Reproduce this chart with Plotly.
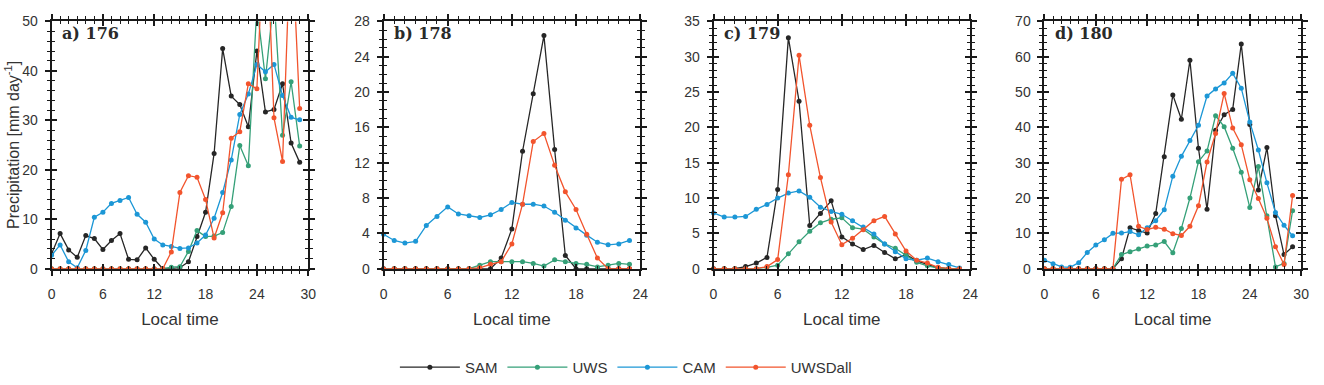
import plotly.graph_objects as go

# ---------------- data ----------------
hours_176 = list(range(30))
sam_176 = [3.0, 7.1, 3.8, 2.3, 6.7, 6.1, 3.9, 5.7, 7.1, 1.9, 1.8, 4.2, 1.9, 0.0, 0.0, 0.2, 1.4, 6.5, 11.4, 23.3,
           44.5, 34.9, 33.2, 28.7, 44.0, 31.7, 32.2, 37.4, 25.4, 21.5]
uws_176 = [0.0, 0.0, 0.0, 0.0, 0.0, 0.0, 0.0, 0.0, 0.0, 0.0, 0.0, 0.0, 0.0, 0.0, 0.3, 0.4, 3.5, 7.7, 6.5, 6.6,
           7.3, 12.6, 24.9, 20.8, 53.0, 38.4, 55.0, 27.0, 37.8, 24.8]
cam_176 = [2.7, 4.8, 1.4, 0.2, 3.7, 10.4, 11.4, 13.2, 13.8, 14.4, 11.0, 9.4, 6.0, 4.8, 4.5, 4.1, 4.2, 5.2, 6.8, 10.2,
           15.4, 22.0, 31.2, 35.3, 41.3, 39.8, 41.3, 35.0, 30.6, 30.1]
uwsdall_176 = [0.0, 0.0, 0.0, 0.0, 0.0, 0.0, 0.0, 0.0, 0.0, 0.0, 0.0, 0.0, 0.0, 0.0, 3.4, 15.4, 18.8, 18.5, 14.0, 6.2,
               11.3, 26.4, 27.7, 37.4, 36.4, 75.0, 30.5, 21.7, 70.0, 32.4]

hours_178 = list(range(24))
sam_178 = [0.0, 0.0, 0.0, 0.0, 0.0, 0.0, 0.0, 0.0, 0.0, 0.0, 0.0, 1.2, 4.5, 13.3, 19.8, 26.4, 13.5, 1.5, 0.0, 0.0,
           0.0, 0.0, 0.0, 0.0]
uws_178 = [0.0, 0.0, 0.0, 0.0, 0.0, 0.0, 0.0, 0.0, 0.0, 0.4, 0.8, 0.8, 0.8, 0.8, 0.6, 0.3, 1.0, 0.8, 0.6, 0.5,
           0.2, 0.4, 0.6, 0.5]
cam_178 = [3.9, 3.2, 2.9, 3.1, 4.9, 5.9, 7.0, 6.2, 6.0, 5.8, 6.1, 6.7, 7.5, 7.3, 7.3, 7.1, 6.4, 5.5, 4.6, 3.8,
           3.0, 2.7, 2.8, 3.2]
uwsdall_178 = [0.0, 0.0, 0.0, 0.0, 0.0, 0.0, 0.0, 0.0, 0.0, 0.1, 0.5, 0.8, 2.8, 7.3, 14.4, 15.3, 11.7, 8.7, 6.7, 3.9,
               1.2, 0.0, 0.0, 0.0]

hours_179 = list(range(24))
sam_179 = [0.0, 0.0, 0.0, 0.3, 0.8, 1.6, 11.2, 32.7, 23.7, 6.1, 7.8, 9.6, 4.5, 3.5, 2.7, 3.3, 2.3, 1.4, 2.0, 1.1,
           0.6, 0.1, 0.0, 0.0]
uws_179 = [0.0, 0.0, 0.0, 0.0, 0.0, 0.2, 0.5, 2.1, 3.8, 5.3, 6.5, 7.0, 7.2, 5.8, 5.6, 4.5, 3.5, 2.9, 1.9, 0.9,
           0.4, 0.1, 0.0, 0.0]
cam_179 = [7.9, 7.3, 7.3, 7.4, 8.4, 9.1, 10.0, 10.7, 11.0, 10.1, 8.7, 8.1, 7.7, 6.8, 5.9, 4.9, 3.5, 2.4, 1.4, 1.2,
           1.5, 1.0, 0.6, 0.1]
uwsdall_179 = [0.0, 0.0, 0.0, 0.0, 0.0, 0.3, 1.3, 13.3, 30.2, 20.3, 12.9, 6.6, 3.4, 4.3, 5.5, 6.8, 7.4, 4.9, 2.5, 1.2,
               0.8, 0.2, 0.0, 0.0]

hours_180 = list(range(30))
sam_180 = [0.0, 0.0, 0.0, 0.0, 0.0, 0.0, 0.0, 0.0, 0.0, 2.8, 11.6, 10.8, 10.1, 15.6, 31.7, 49.2, 42.3, 59.0, 34.1, 16.8,
           39.2, 43.6, 45.1, 63.6, 40.8, 22.3, 34.3, 15.0, 4.0, 6.2]
uws_180 = [0.0, 0.0, 0.0, 0.0, 0.0, 0.0, 0.0, 0.0, 0.0, 4.0, 4.8, 5.6, 6.4, 6.7, 7.7, 4.5, 11.4, 20.0, 30.3, 33.3,
           43.3, 40.2, 34.1, 27.3, 17.3, 28.9, 15.0, 0.5, 1.5, 16.4]
cam_180 = [2.4, 1.4, 0.5, 0.4, 1.7, 4.6, 6.7, 8.2, 10.0, 10.1, 10.5, 9.6, 11.6, 13.6, 16.7, 26.2, 31.8, 36.3, 40.6, 48.9,
           50.9, 52.6, 55.3, 51.1, 41.5, 33.6, 24.3, 15.9, 12.3, 9.3]
uwsdall_180 = [0.0, 0.0, 0.0, 0.0, 0.0, 0.0, 0.0, 0.0, 0.0, 25.3, 26.6, 12.0, 11.1, 11.7, 11.2, 9.9, 9.4, 12.0, 17.8, 30.2,
               38.3, 49.6, 39.8, 35.1, 25.2, 19.9, 14.3, 6.2, 1.2, 20.7]

panel_labels = ["a) 176", "b) 178", "c) 179", "d) 180"]
series_names = ["SAM", "UWS", "CAM", "UWSDall"]
series_colors = ["#262626", "#35a078", "#1c97d6", "#f2542d"]

x_max = [30, 24, 24, 30]
y_max = [50, 28, 35, 70]
y_major = [10, 4, 5, 10]
y_minor = [2, 1, 1, 2]

panel_data = [
    (hours_176, [sam_176, uws_176, cam_176, uwsdall_176]),
    (hours_178, [sam_178, uws_178, cam_178, uwsdall_178]),
    (hours_179, [sam_179, uws_179, cam_179, uwsdall_179]),
    (hours_180, [sam_180, uws_180, cam_180, uwsdall_180]),
]

# ---------------- layout geometry ----------------
W, H = 1324, 385
plot_left = [48, 383, 716, 1050]
plot_w = 259
top_px, bottom_px = 14, 272
FONT = "Liberation Sans"
TXT = "#333333"
AX = "#1a1a1a"

fig = go.Figure()
layout = {}
annotations = []

for i, (hours, vals) in enumerate(panel_data):
    n = 2 * i + 1
    m = 2 * i + 2
    xa = "x" if n == 1 else f"x{n}"
    ya = "y" if n == 1 else f"y{n}"
    xo, yo = f"x{m}", f"y{m}"
    clip = any(v > y_max[i] for s in vals for v in s)
    for k, (name, color, s) in enumerate(zip(series_names, series_colors, vals)):
        last = (k == len(series_names) - 1)
        fig.add_trace(go.Scatter(
            x=hours, y=s,
            xaxis=xo if last else xa, yaxis=yo if last else ya,
            mode="lines+markers",
            name=name, legendgroup=name, showlegend=(i == 0),
            line=dict(color=color, width=1.3),
            marker=dict(size=5, color=color),
            cliponaxis=clip,
        ))
    dx = [plot_left[i] / W, (plot_left[i] + plot_w) / W]
    dy = [1 - bottom_px / H, 1 - top_px / H]
    common_x = dict(domain=dx, range=[0, x_max[i]], tick0=0, dtick=6,
                    showgrid=False, zeroline=False, fixedrange=True)
    common_y = dict(domain=dy, range=[0, y_max[i]], tick0=0, dtick=y_major[i],
                    showgrid=False, zeroline=False, fixedrange=True)
    layout["xaxis" if n == 1 else f"xaxis{n}"] = dict(
        **common_x, anchor=ya, ticks="outside", ticklen=5, tickwidth=1.5, tickcolor=AX,
        mirror="ticks", showline=True, linewidth=2, linecolor=AX,
        minor=dict(dtick=1, tick0=0, ticks="outside", ticklen=3, tickwidth=1, tickcolor=AX, showgrid=False),
        tickfont=dict(family=FONT, size=14, color=TXT), ticklabelstandoff=7,
        title=dict(text="Local time", font=dict(family=FONT, size=17, color=TXT), standoff=12),
    )
    layout[f"xaxis{m}"] = dict(
        **common_x, anchor=yo, overlaying=xa, ticks="inside", ticklen=5, tickwidth=1.5, tickcolor=AX,
        mirror="ticks", showline=False, showticklabels=False,
        minor=dict(dtick=1, tick0=0, ticks="inside", ticklen=3, tickwidth=1, tickcolor=AX, showgrid=False),
    )
    layout["yaxis" if n == 1 else f"yaxis{n}"] = dict(
        **common_y, anchor=xa, ticks="outside", ticklen=5, tickwidth=1.5, tickcolor=AX,
        mirror="ticks", showline=True, linewidth=2, linecolor=AX,
        minor=dict(dtick=y_minor[i], tick0=0, ticks="outside", ticklen=3, tickwidth=1, tickcolor=AX, showgrid=False),
        tickfont=dict(family=FONT, size=14, color=TXT), ticklabelstandoff=4,
    )
    layout[f"yaxis{m}"] = dict(
        **common_y, anchor=xo, overlaying=ya, ticks="inside", ticklen=5, tickwidth=1.5, tickcolor=AX,
        mirror="ticks", showline=False, showticklabels=False,
        minor=dict(dtick=y_minor[i], tick0=0, ticks="inside", ticklen=3, tickwidth=1, tickcolor=AX, showgrid=False),
    )
    annotations.append(dict(
        text=panel_labels[i], xref="paper", yref="paper",
        x=(plot_left[i] + 9) / W, y=1 - 27 / H, xanchor="left", yanchor="middle",
        showarrow=False, font=dict(family="DejaVu Serif", size=16, color="#2a2a2a", weight="bold"),
    ))

annotations.append(dict(
    text="Precipitation [mm day<sup>-1</sup>]", xref="paper", yref="paper",
    x=8 / W, y=1 - 143 / H, xanchor="center", yanchor="middle", textangle=-90,
    showarrow=False, font=dict(family=FONT, size=16, color=TXT),
))

fig.update_layout(
    **layout,
    width=W, height=H,
    margin=dict(l=0, r=0, t=0, b=0),
    paper_bgcolor="white", plot_bgcolor="white",
    annotations=annotations,
    showlegend=True,
    legend=dict(orientation="h", x=0.474, xanchor="center", y=1 - 375 / H, yanchor="middle",
                font=dict(family=FONT, size=15, color=TXT), itemwidth=60,
                bgcolor="rgba(0,0,0,0)", traceorder="normal"),
)

fig.write_html("out.html")
